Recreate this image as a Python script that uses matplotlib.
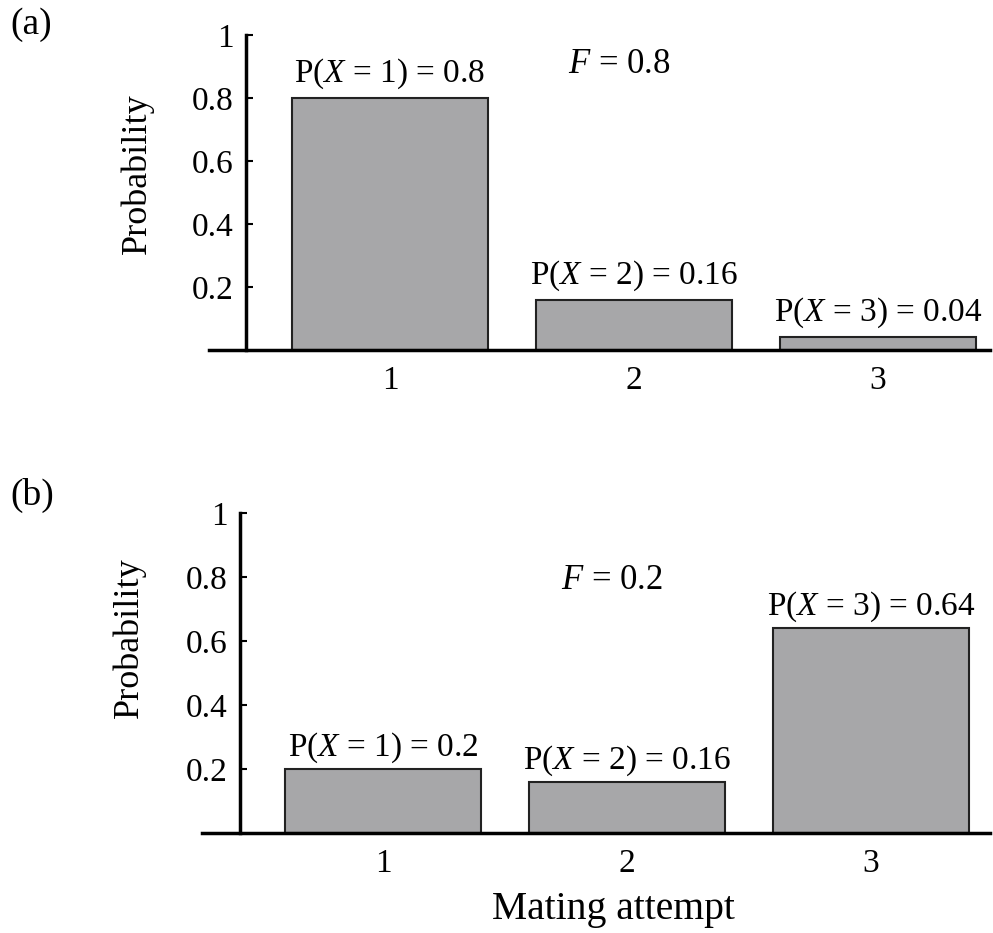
import matplotlib
matplotlib.use('Agg')
import matplotlib.pyplot as plt

plt.rcParams['font.family'] = 'Liberation Serif'
plt.rcParams['mathtext.fontset'] = 'custom'
plt.rcParams['mathtext.rm'] = 'Liberation Serif'
plt.rcParams['mathtext.it'] = 'Liberation Serif:italic'

attempts = [1, 2, 3]
prob_a = [0.8, 0.16, 0.04]
prob_b = [0.2, 0.16, 0.64]
labels_a = ['P($X$ = 1) = 0.8', 'P($X$ = 2) = 0.16', 'P($X$ = 3) = 0.04']
labels_b = ['P($X$ = 1) = 0.2', 'P($X$ = 2) = 0.16', 'P($X$ = 3) = 0.64']
yticks = [0.2, 0.4, 0.6, 0.8, 1]
ytick_labels = ['0.2', '0.4', '0.6', '0.8', '1']

W, H = 993, 933
fig = plt.figure(figsize=(W / 100, H / 100), dpi=100)

def px_axes(left, top, right, bottom):
    return fig.add_axes([left / W, 1 - bottom / H, (right - left) / W, (bottom - top) / H])

def panel(ax, probs, labels, xlim, yspine, ftext, fpos, ylab_y, offs):
    ax.bar(attempts, probs, width=0.8, color='#a7a7a9', edgecolor='#222222', linewidth=1.5, zorder=2)
    ax.set_xlim(*xlim)
    ax.set_ylim(0, 1)
    for s in ['top', 'right']:
        ax.spines[s].set_visible(False)
    ax.spines['left'].set_position(('data', yspine))
    ax.spines['left'].set_linewidth(2.5)
    ax.spines['bottom'].set_linewidth(2.5)
    ax.spines['left'].set_zorder(3)
    ax.spines['bottom'].set_zorder(3)
    ax.set_yticks(yticks)
    ax.set_yticklabels(ytick_labels)
    ax.set_xticks(attempts)
    ax.tick_params(axis='y', direction='in', length=5, width=1.5, pad=9, labelsize=24)
    ax.tick_params(axis='x', length=0, pad=11, labelsize=24)
    for x, p, lab in zip(attempts, probs, labels):
        ax.annotate(lab, (x, p), xytext=(0, offs), textcoords='offset points',
                    ha='center', va='bottom', fontsize=24)
    ax.text(fpos[0], fpos[1], ftext, ha='center', va='center', fontsize=25)
    ax.set_ylabel('Probability', fontsize=26, va='center')
    ax.yaxis.set_label_coords(-0.092, ylab_y)

ax1 = px_axes(209, 35, 990, 350)
panel(ax1, prob_a, labels_a, (0.258, 3.459), 0.41, '$F$ = 0.8', (1.94, 0.905), 0.56, 5)

ax2 = px_axes(202, 513, 990, 833)
panel(ax2, prob_b, labels_b, (0.258, 3.488), 0.414, '$F$ = 0.2', (1.94, 0.79), 0.61, 3)
ax2.set_xlabel('Mating attempt', fontsize=28.5, va='baseline')
ax2.xaxis.set_label_coords(0.522, -(919 - 833) / 320)

fig.text(10 / W, 1 - 25 / H, '(a)', fontsize=27, va='center', ha='left')
fig.text(10 / W, 1 - 495 / H, '(b)', fontsize=27, va='center', ha='left')

fig.savefig('out.png', dpi=100)
